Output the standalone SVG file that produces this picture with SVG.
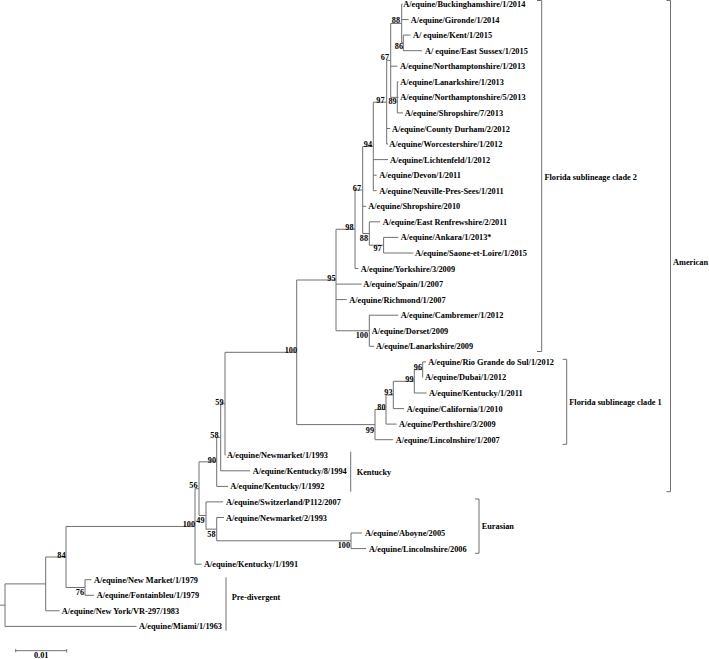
<svg xmlns="http://www.w3.org/2000/svg" width="709" height="659" viewBox="0 0 709 659">
<style>
  .t{font-family:"Liberation Serif","Times New Roman",serif;font-weight:bold;font-size:8.3px;fill:#000}
  .b{font-family:"Liberation Serif","Times New Roman",serif;font-weight:bold;font-size:8.2px;fill:#000;text-anchor:end}
  .ln{fill:none;stroke:#707070;stroke-width:1}
</style>
<rect width="709" height="659" fill="#fff"/>
<g id="connectors" class="ln">
  <path d="M5,605.15H0M5,583.9V626.4M5,583.9H45.7M5,626.4H136.5"/>
  <path d="M45.7,557V610.8M45.7,557H66M45.7,610.8H59.5"/>
  <path d="M66,526.45V587.5M66,526.45H195M66,587.5H85"/>
  <path d="M85,579.7V595.3M85,579.7H91.5M85,595.3H94"/>
  <path d="M195,488.7V564.2M195,488.7H199M195,564.2H201.5"/>
  <path d="M199,461.85V515.5M199,461.85H216.7M199,515.5H206"/>
  <path d="M206,501.9V529.15M206,501.9H223M206,529.15H216.7"/>
  <path d="M216.7,517.5V540.8M216.7,517.5H224M216.7,540.8H351"/>
  <path d="M351,533V548.6M351,533H362M351,548.6H366"/>
  <path d="M216.7,437.3V486.4M216.7,437.3H220.7M216.7,486.4H228"/>
  <path d="M220.7,403.75V470.8M220.7,403.75H225M220.7,470.8H250"/>
  <path d="M225,352.3V455.2M225,352.3H296.7M225,455.2H225.5"/>
  <path d="M296.7,280V424.6M296.7,280H336M296.7,424.6H375"/>
  <path d="M375,409.5V439.7M375,409.5H386M375,439.7H393"/>
  <path d="M386,395V424.1M386,395H393.3M386,424.1H396.7"/>
  <path d="M393.3,381.3V408.6M393.3,381.3H414.3M393.3,408.6H404"/>
  <path d="M414.3,369.65V393M414.3,369.65H422.7M414.3,393H426.7"/>
  <path d="M422.7,361.9V377.4M422.7,361.9H426M422.7,377.4H423"/>
  <path d="M336,229.25V330.75M336,229.25H355M336,284.1H361.7M336,299.6H346.7M336,330.75H369.3"/>
  <path d="M369.3,315.2V346.3M369.3,315.2H398.3M369.3,346.3H374"/>
  <path d="M355,190V268.5M355,190H362.7M355,268.5H358.3"/>
  <path d="M362.7,146.45V233.5M362.7,146.45H373.3M362.7,206.3H366M362.7,233.5H369.3"/>
  <path d="M369.3,221.8V245.2M369.3,221.8H380M369.3,245.2H383.6"/>
  <path d="M383.6,237.4V253M383.6,237.4H398.3M383.6,253H413.3"/>
  <path d="M373.3,102.2V190.7M373.3,102.2H386.7M373.3,159.6H388M373.3,175.2H376.7M373.3,190.7H376.7"/>
  <path d="M386.7,60.4V144M386.7,60.4H390.7M386.7,128.5H390M386.7,144H388"/>
  <path d="M390.7,23.45V97.35M390.7,23.45H401.7M390.7,66.2H397.5M390.7,97.35H397.3"/>
  <path d="M397.3,81.8V112.9M397.3,81.8H398.5M397.3,97.4H398.5M397.3,112.9H403"/>
  <path d="M401.7,4V42.9M401.7,4H402.5M401.7,19.6H408.7M401.7,42.9H403.3"/>
  <path d="M403.3,35.1V50.7M403.3,35.1H410.5M403.3,50.7H422"/>
</g>
<g id="leaves">
  <g id="n0"><text class="t" x="403.3" y="7">A/equine/Buckinghamshire/1/2014</text></g>
  <g id="n1"><text class="t" x="410.7" y="22.6">A/equine/Gironde/1/2014</text></g>
  <g id="n2"><text class="t" x="413" y="38.1">A/ equine/Kent/1/2015</text></g>
  <g id="n3"><text class="t" x="425" y="53.7">A/ equine/East Sussex/1/2015</text></g>
  <g id="n4"><text class="t" x="400" y="69.2">A/equine/Northamptonshire/1/2013</text></g>
  <g id="n5"><text class="t" x="400.3" y="84.8">A/equine/Lanarkshire/1/2013</text></g>
  <g id="n6"><text class="t" x="400.3" y="100.4">A/equine/Northamptonshire/5/2013</text></g>
  <g id="n7"><text class="t" x="404.7" y="115.9">A/equine/Shropshire/7/2013</text></g>
  <g id="n8"><text class="t" x="392" y="131.5">A/equine/County Durham/2/2012</text></g>
  <g id="n9"><text class="t" x="389.3" y="147">A/equine/Worcestershire/1/2012</text></g>
  <g id="n10"><text class="t" x="390" y="162.6">A/equine/Lichtenfeld/1/2012</text></g>
  <g id="n11"><text class="t" x="379.3" y="178.2">A/equine/Devon/1/2011</text></g>
  <g id="n12"><text class="t" x="379.3" y="193.7">A/equine/Neuville-Pres-Sees/1/2011</text></g>
  <g id="n13"><text class="t" x="368.3" y="209.3">A/equine/Shropshire/2010</text></g>
  <g id="n14"><text class="t" x="382.7" y="224.8">A/equine/East Renfrewshire/2/2011</text></g>
  <g id="n15"><text class="t" x="400.7" y="240.4">A/equine/Ankara/1/2013*</text></g>
  <g id="n16"><text class="t" x="415" y="256">A/equine/Saone-et-Loire/1/2015</text></g>
  <g id="n17"><text class="t" x="360.7" y="271.5">A/equine/Yorkshire/3/2009</text></g>
  <g id="n18"><text class="t" x="363.3" y="287.1">A/equine/Spain/1/2007</text></g>
  <g id="n19"><text class="t" x="349.3" y="302.6">A/equine/Richmond/1/2007</text></g>
  <g id="n20"><text class="t" x="400.7" y="318.2">A/equine/Cambremer/1/2012</text></g>
  <g id="n21"><text class="t" x="371.7" y="333.8">A/equine/Dorset/2009</text></g>
  <g id="n22"><text class="t" x="376" y="349.3">A/equine/Lanarkshire/2009</text></g>
  <g id="n23"><text class="t" x="428.3" y="364.9">A/equine/Rio Grande do Sul/1/2012</text></g>
  <g id="n24"><text class="t" x="425" y="380.4">A/equine/Dubai/1/2012</text></g>
  <g id="n25"><text class="t" x="429" y="396">A/equine/Kentucky/1/2011</text></g>
  <g id="n26"><text class="t" x="406.7" y="411.6">A/equine/California/1/2010</text></g>
  <g id="n27"><text class="t" x="399" y="427.1">A/equine/Perthshire/3/2009</text></g>
  <g id="n28"><text class="t" x="395.7" y="442.7">A/equine/Lincolnshire/1/2007</text></g>
  <g id="n29"><text class="t" x="227" y="458.2">A/equine/Newmarket/1/1993</text></g>
  <g id="n30"><text class="t" x="252.7" y="473.8">A/equine/Kentucky/8/1994</text></g>
  <g id="n31"><text class="t" x="230.3" y="489.4">A/equine/Kentucky/1/1992</text></g>
  <g id="n32"><text class="t" x="226" y="504.9">A/equine/Switzerland/P112/2007</text></g>
  <g id="n33"><text class="t" x="226" y="520.5">A/equine/Newmarket/2/1993</text></g>
  <g id="n34"><text class="t" x="365" y="536">A/equine/Aboyne/2005</text></g>
  <g id="n35"><text class="t" x="369" y="551.6">A/equine/Lincolnshire/2006</text></g>
  <g id="n36"><text class="t" x="204" y="567.2">A/equine/Kentucky/1/1991</text></g>
  <g id="n37"><text class="t" x="94" y="582.7">A/equine/New Market/1/1979</text></g>
  <g id="n38"><text class="t" x="96.7" y="598.3">A/equine/Fontainbleu/1/1979</text></g>
  <g id="n39"><text class="t" x="61.7" y="613.8">A/equine/New York/VR-297/1983</text></g>
  <g id="n40"><text class="t" x="139" y="629.4">A/equine/Miami/1/1963</text></g>
</g>
<g id="bootstrap">
  <text class="b" x="400" y="23">88</text>
  <text class="b" x="403" y="49">86</text>
  <text class="b" x="389" y="60">67</text>
  <text class="b" x="396.7" y="104">89</text>
  <text class="b" x="384.5" y="103">97</text>
  <text class="b" x="372" y="146.5">94</text>
  <text class="b" x="361" y="190.5">67</text>
  <text class="b" x="368" y="240.5">88</text>
  <text class="b" x="381.7" y="251">97</text>
  <text class="b" x="353.5" y="230">98</text>
  <text class="b" x="335.5" y="281">95</text>
  <text class="b" x="368" y="337.5">100</text>
  <text class="b" x="297" y="352.5">100</text>
  <text class="b" x="422" y="370">96</text>
  <text class="b" x="413.5" y="382">99</text>
  <text class="b" x="392.5" y="395">93</text>
  <text class="b" x="385.5" y="409.5">80</text>
  <text class="b" x="374" y="432.5">99</text>
  <text class="b" x="223.5" y="405">59</text>
  <text class="b" x="218.5" y="438">58</text>
  <text class="b" x="216" y="462.5">90</text>
  <text class="b" x="197.5" y="488">56</text>
  <text class="b" x="204.5" y="523">49</text>
  <text class="b" x="215.5" y="537">58</text>
  <text class="b" x="350" y="548">100</text>
  <text class="b" x="195" y="527">100</text>
  <text class="b" x="65.5" y="558">84</text>
  <text class="b" x="84" y="595">76</text>
</g>
<g id="clade-florida2">
  <path class="ln" d="M537,0.5H541.7V351.5H537"/>
  <text class="t" x="544.5" y="179.5">Florida sublineage clade 2</text>
</g>
<g id="clade-florida1">
  <path class="ln" d="M562.7,359.3H566.7V444.3H562.7"/>
  <text class="t" x="569.3" y="404.5">Florida sublineage clade 1</text>
</g>
<g id="clade-american">
  <path class="ln" d="M666.5,0.5H670.5V491.7H666.5"/>
  <text class="t" x="673" y="264.5">American</text>
</g>
<g id="clade-kentucky">
  <path class="ln" d="M350.7,451.7V491.7"/>
  <text class="t" x="356.7" y="475">Kentucky</text>
</g>
<g id="clade-eurasian">
  <path class="ln" d="M475,499H479V553.3H475"/>
  <text class="t" x="481.7" y="528.5">Eurasian</text>
</g>
<g id="clade-predivergent">
  <path class="ln" d="M226,577.3V630.7"/>
  <text class="t" x="231.7" y="600">Pre-divergent</text>
</g>
<g id="scale">
  <path class="ln" d="M15.7,650.7H66.7M15.7,649V652.4M66.7,649V652.4"/>
  <text class="t" x="41.2" y="658" text-anchor="middle">0.01</text>
</g>
</svg>
